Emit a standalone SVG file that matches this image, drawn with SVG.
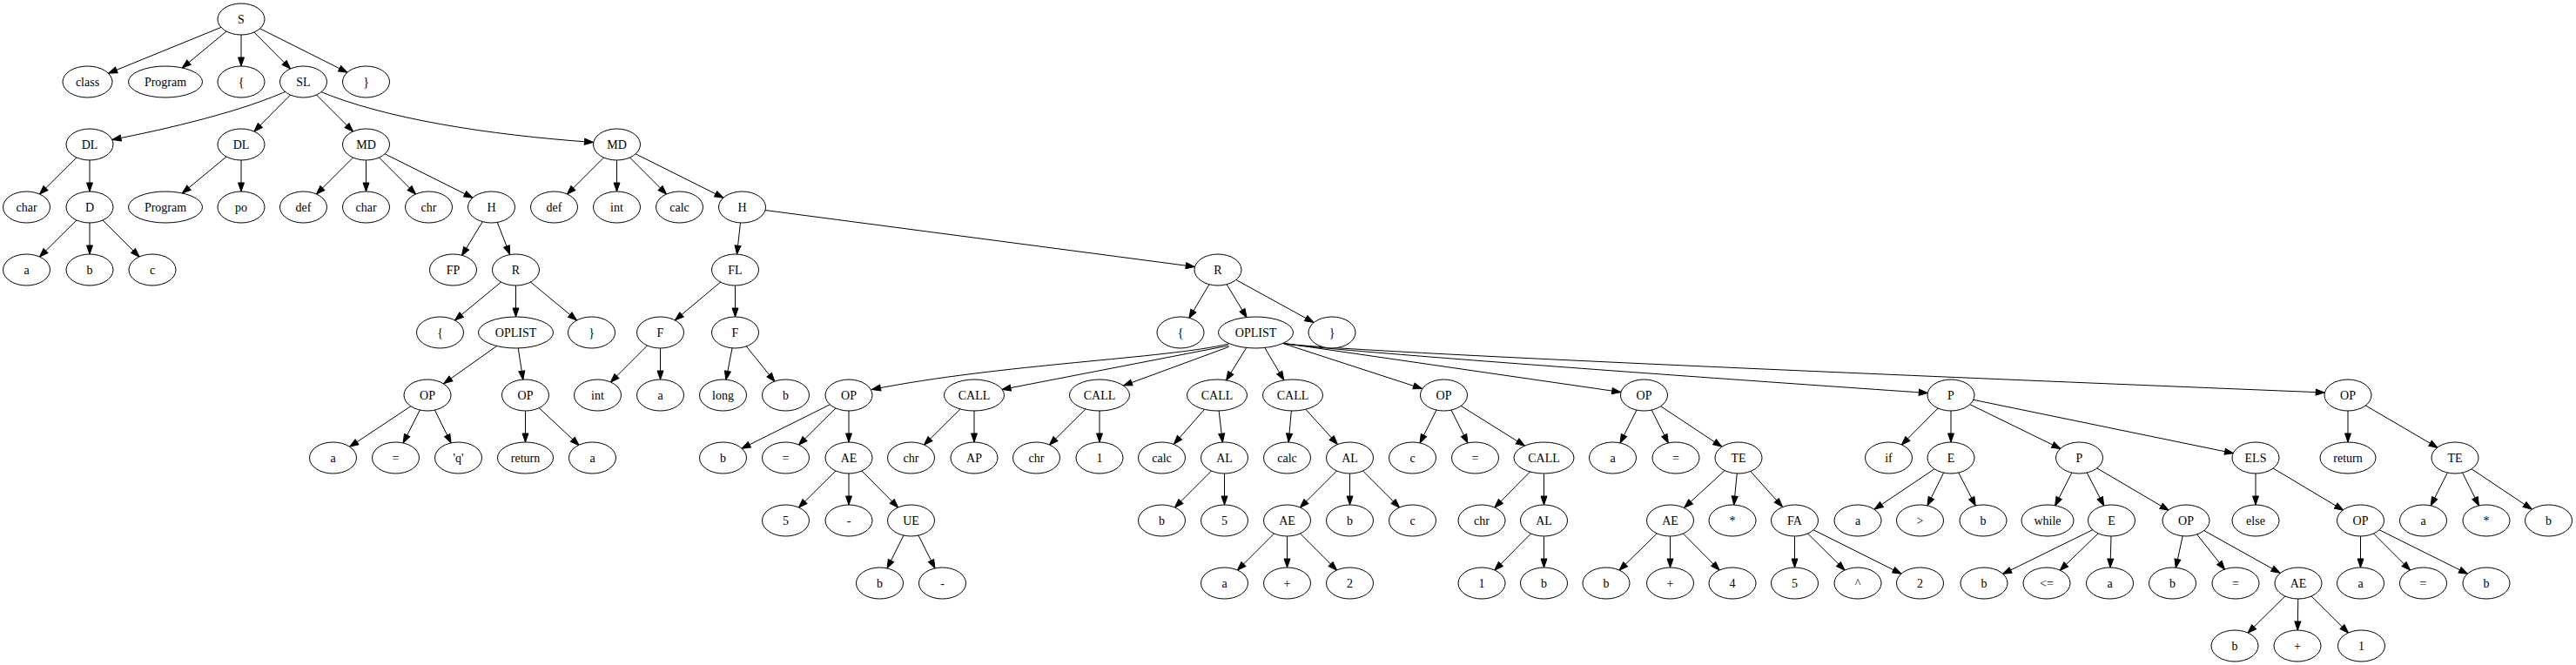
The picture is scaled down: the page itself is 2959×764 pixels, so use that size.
<svg xmlns="http://www.w3.org/2000/svg" width="2959" height="764" viewBox="0 0 2959 764">
<style>
ellipse{fill:#fff;stroke:#000;stroke-width:1}
text{font-family:"Liberation Serif","Times New Roman",serif;font-size:14px;text-anchor:middle;fill:#000}
#edges line,#edges path{stroke:#000;stroke-width:1;fill:none}
marker path{fill:#000;stroke:#000;stroke-width:1}
.m18{marker-end:url(#a18)}.m19{marker-end:url(#a19)}.m20{marker-end:url(#a20)}.m21{marker-end:url(#a21)}
.m22{marker-end:url(#a22)}.m23{marker-end:url(#a23)}.m24{marker-end:url(#a24)}.m25{marker-end:url(#a25)}
.m26{marker-end:url(#a26)}.m27{marker-end:url(#a27)}.mt{marker-end:url(#tip)}
</style>
<defs>
<marker id="tip" markerUnits="userSpaceOnUse" orient="auto" refX="10" refY="0" markerWidth="12" markerHeight="8" overflow="visible"><path d="M0,-3.5L10,0L0,3.5z"/></marker>
<marker id="a18" markerUnits="userSpaceOnUse" orient="auto" refX="28" refY="0" markerWidth="12" markerHeight="8" overflow="visible"><path d="M0,-3.5L10,0L0,3.5z"/></marker>
<marker id="a19" markerUnits="userSpaceOnUse" orient="auto" refX="29" refY="0" markerWidth="12" markerHeight="8" overflow="visible"><path d="M0,-3.5L10,0L0,3.5z"/></marker>
<marker id="a20" markerUnits="userSpaceOnUse" orient="auto" refX="30" refY="0" markerWidth="12" markerHeight="8" overflow="visible"><path d="M0,-3.5L10,0L0,3.5z"/></marker>
<marker id="a21" markerUnits="userSpaceOnUse" orient="auto" refX="31" refY="0" markerWidth="12" markerHeight="8" overflow="visible"><path d="M0,-3.5L10,0L0,3.5z"/></marker>
<marker id="a22" markerUnits="userSpaceOnUse" orient="auto" refX="32" refY="0" markerWidth="12" markerHeight="8" overflow="visible"><path d="M0,-3.5L10,0L0,3.5z"/></marker>
<marker id="a23" markerUnits="userSpaceOnUse" orient="auto" refX="33" refY="0" markerWidth="12" markerHeight="8" overflow="visible"><path d="M0,-3.5L10,0L0,3.5z"/></marker>
<marker id="a24" markerUnits="userSpaceOnUse" orient="auto" refX="34" refY="0" markerWidth="12" markerHeight="8" overflow="visible"><path d="M0,-3.5L10,0L0,3.5z"/></marker>
<marker id="a25" markerUnits="userSpaceOnUse" orient="auto" refX="35" refY="0" markerWidth="12" markerHeight="8" overflow="visible"><path d="M0,-3.5L10,0L0,3.5z"/></marker>
<marker id="a26" markerUnits="userSpaceOnUse" orient="auto" refX="36" refY="0" markerWidth="12" markerHeight="8" overflow="visible"><path d="M0,-3.5L10,0L0,3.5z"/></marker>
<marker id="a27" markerUnits="userSpaceOnUse" orient="auto" refX="37" refY="0" markerWidth="12" markerHeight="8" overflow="visible"><path d="M0,-3.5L10,0L0,3.5z"/></marker>
</defs>
<rect x="0" y="0" width="2959" height="764" fill="#fff"/>
<g id="edges">
<line class="m26" x1="277" y1="22" x2="100.5" y2="94"/>
<line class="m25" x1="277" y1="22" x2="190" y2="94"/>
<line class="m18" x1="277" y1="22" x2="277" y2="94"/>
<line class="m21" x1="277" y1="22" x2="348.5" y2="94"/>
<line class="m24" x1="277" y1="22" x2="420.5" y2="94"/>
<path class="mt" d="M335,102 C280,128 190,148.5 129,160.5"/>
<line class="m21" x1="348.5" y1="94" x2="277" y2="166"/>
<line class="m21" x1="348.5" y1="94" x2="420.5" y2="166"/>
<path class="mt" d="M365,104 C440,136 560,155 681.5,163.5"/>
<line class="m21" x1="103" y1="166" x2="30.5" y2="238"/>
<line class="m18" x1="103" y1="166" x2="103" y2="238"/>
<line class="m25" x1="277" y1="166" x2="190" y2="238"/>
<line class="m18" x1="277" y1="166" x2="277" y2="238"/>
<line class="m21" x1="420.5" y1="166" x2="348.5" y2="238"/>
<line class="m18" x1="420.5" y1="166" x2="420.5" y2="238"/>
<line class="m21" x1="420.5" y1="166" x2="492.5" y2="238"/>
<line class="m24" x1="420.5" y1="166" x2="564.5" y2="238"/>
<line class="m21" x1="708.5" y1="166" x2="636.5" y2="238"/>
<line class="m18" x1="708.5" y1="166" x2="708.5" y2="238"/>
<line class="m21" x1="708.5" y1="166" x2="780.5" y2="238"/>
<line class="m24" x1="708.5" y1="166" x2="852.5" y2="238"/>
<line class="m21" x1="103" y1="238" x2="30.5" y2="310"/>
<line class="m18" x1="103" y1="238" x2="103" y2="310"/>
<line class="m21" x1="103" y1="238" x2="175" y2="310"/>
<line class="m19" x1="564.5" y1="238" x2="520.5" y2="310"/>
<line class="m19" x1="564.5" y1="238" x2="592.5" y2="310"/>
<line class="m18" x1="852.5" y1="238" x2="844.5" y2="310"/>
<line class="m27" x1="852.5" y1="238" x2="1399" y2="310"/>
<line class="m22" x1="844.5" y1="310" x2="758.5" y2="382"/>
<line class="m18" x1="844.5" y1="310" x2="844.5" y2="382"/>
<line class="m22" x1="592.5" y1="310" x2="505.5" y2="382"/>
<line class="m18" x1="592.5" y1="310" x2="592.5" y2="382"/>
<line class="m22" x1="592.5" y1="310" x2="679.5" y2="382"/>
<line class="m19" x1="1399" y1="310" x2="1356" y2="382"/>
<line class="m20" x1="1399" y1="310" x2="1442.5" y2="382"/>
<line class="m24" x1="1399" y1="310" x2="1530" y2="382"/>
<line class="m23" x1="592.5" y1="382" x2="491" y2="454"/>
<line class="m18" x1="592.5" y1="382" x2="603.5" y2="454"/>
<line class="m21" x1="758.5" y1="382" x2="686.5" y2="454"/>
<line class="m18" x1="758.5" y1="382" x2="758.5" y2="454"/>
<line class="m18" x1="844.5" y1="382" x2="830.5" y2="454"/>
<line class="m20" x1="844.5" y1="382" x2="902.5" y2="454"/>
<path class="mt" d="M1411.5,395 C1340,412 1150,418 1001.5,447.5"/>
<path class="mt" d="M1411.5,397 L1151,447.5"/>
<path class="mt" d="M1411.5,398.5 L1290.5,443"/>
<line class="m20" x1="1442.5" y1="382" x2="1398" y2="454"/>
<line class="m20" x1="1442.5" y1="382" x2="1485" y2="454"/>
<path class="mt" d="M1472,394 L1633.5,446.5"/>
<path class="mt" d="M1472,394 L1861.7,450.5"/>
<path class="mt" d="M1472,394 C1490,400 1900,430 2214.3,451.5"/>
<path class="mt" d="M1472,394 C1500,402 2100,428 2670.2,451"/>
<line class="m23" x1="491" y1="454" x2="382.5" y2="526"/>
<line class="m19" x1="491" y1="454" x2="454.5" y2="526"/>
<line class="m19" x1="491" y1="454" x2="526.5" y2="526"/>
<line class="m18" x1="603.5" y1="454" x2="603.5" y2="526"/>
<line class="m21" x1="603.5" y1="454" x2="680.5" y2="526"/>
<line class="m24" x1="975" y1="454" x2="830.5" y2="526"/>
<line class="m21" x1="975" y1="454" x2="902.5" y2="526"/>
<line class="m18" x1="975" y1="454" x2="975" y2="526"/>
<line class="m21" x1="1119" y1="454" x2="1046.5" y2="526"/>
<line class="m18" x1="1119" y1="454" x2="1119" y2="526"/>
<line class="m21" x1="1263" y1="454" x2="1190.5" y2="526"/>
<line class="m18" x1="1263" y1="454" x2="1263" y2="526"/>
<line class="m21" x1="1398" y1="454" x2="1334.5" y2="526"/>
<line class="m18" x1="1398" y1="454" x2="1406.5" y2="526"/>
<line class="m18" x1="1485" y1="454" x2="1478.5" y2="526"/>
<line class="m21" x1="1485" y1="454" x2="1550.5" y2="526"/>
<line class="m19" x1="1658.5" y1="454" x2="1622.5" y2="526"/>
<line class="m19" x1="1658.5" y1="454" x2="1694.5" y2="526"/>
<line class="m26" x1="1658.5" y1="454" x2="1773.5" y2="526"/>
<line class="m19" x1="1888.5" y1="454" x2="1852.5" y2="526"/>
<line class="m19" x1="1888.5" y1="454" x2="1925" y2="526"/>
<line class="m23" x1="1888.5" y1="454" x2="1997" y2="526"/>
<line class="m21" x1="2241" y1="454" x2="2169.5" y2="526"/>
<line class="m18" x1="2241" y1="454" x2="2241" y2="526"/>
<line class="m24" x1="2241" y1="454" x2="2388.5" y2="526"/>
<line class="m26" x1="2241" y1="454" x2="2591" y2="526"/>
<line class="m18" x1="2697" y1="454" x2="2697" y2="526"/>
<line class="m23" x1="2697" y1="454" x2="2820" y2="526"/>
<line class="m21" x1="975" y1="526" x2="902.5" y2="598"/>
<line class="m18" x1="975" y1="526" x2="975" y2="598"/>
<line class="m21" x1="975" y1="526" x2="1046.5" y2="598"/>
<line class="m21" x1="1406.5" y1="526" x2="1334.5" y2="598"/>
<line class="m18" x1="1406.5" y1="526" x2="1406.5" y2="598"/>
<line class="m21" x1="1550.5" y1="526" x2="1478.5" y2="598"/>
<line class="m18" x1="1550.5" y1="526" x2="1550.5" y2="598"/>
<line class="m21" x1="1550.5" y1="526" x2="1622.5" y2="598"/>
<line class="m21" x1="1773.5" y1="526" x2="1702" y2="598"/>
<line class="m18" x1="1773.5" y1="526" x2="1773.5" y2="598"/>
<line class="m22" x1="1997" y1="526" x2="1918.5" y2="598"/>
<line class="m18" x1="1997" y1="526" x2="1990" y2="598"/>
<line class="m21" x1="1997" y1="526" x2="2061.5" y2="598"/>
<line class="m23" x1="2241" y1="526" x2="2134" y2="598"/>
<line class="m19" x1="2241" y1="526" x2="2205.5" y2="598"/>
<line class="m19" x1="2241" y1="526" x2="2278" y2="598"/>
<line class="m19" x1="2388.5" y1="526" x2="2352" y2="598"/>
<line class="m19" x1="2388.5" y1="526" x2="2425.5" y2="598"/>
<line class="m23" x1="2388.5" y1="526" x2="2511" y2="598"/>
<line class="m18" x1="2591" y1="526" x2="2591" y2="598"/>
<line class="m23" x1="2591" y1="526" x2="2711.5" y2="598"/>
<line class="m19" x1="2820" y1="526" x2="2783.5" y2="598"/>
<line class="m19" x1="2820" y1="526" x2="2856" y2="598"/>
<line class="m23" x1="2820" y1="526" x2="2927.5" y2="598"/>
<line class="m19" x1="1046.5" y1="598" x2="1010.5" y2="670"/>
<line class="m19" x1="1046.5" y1="598" x2="1082.5" y2="670"/>
<line class="m21" x1="1478.5" y1="598" x2="1406.5" y2="670"/>
<line class="m18" x1="1478.5" y1="598" x2="1478.5" y2="670"/>
<line class="m21" x1="1478.5" y1="598" x2="1550.5" y2="670"/>
<line class="m21" x1="1773.5" y1="598" x2="1702" y2="670"/>
<line class="m18" x1="1773.5" y1="598" x2="1773.5" y2="670"/>
<line class="m21" x1="1918.5" y1="598" x2="1845" y2="670"/>
<line class="m18" x1="1918.5" y1="598" x2="1918.5" y2="670"/>
<line class="m21" x1="1918.5" y1="598" x2="1990" y2="670"/>
<line class="m18" x1="2061.5" y1="598" x2="2061.5" y2="670"/>
<line class="m21" x1="2061.5" y1="598" x2="2134" y2="670"/>
<line class="m24" x1="2061.5" y1="598" x2="2205.5" y2="670"/>
<line class="m24" x1="2425.5" y1="598" x2="2279" y2="670"/>
<line class="m21" x1="2425.5" y1="598" x2="2351" y2="670"/>
<line class="m18" x1="2425.5" y1="598" x2="2423.5" y2="670"/>
<line class="m18" x1="2511" y1="598" x2="2495.5" y2="670"/>
<line class="m20" x1="2511" y1="598" x2="2568" y2="670"/>
<line class="m24" x1="2511" y1="598" x2="2640" y2="670"/>
<line class="m18" x1="2711.5" y1="598" x2="2711.5" y2="670"/>
<line class="m21" x1="2711.5" y1="598" x2="2783.5" y2="670"/>
<line class="m24" x1="2711.5" y1="598" x2="2856" y2="670"/>
<line class="m21" x1="2640" y1="670" x2="2567" y2="742"/>
<line class="m18" x1="2640" y1="670" x2="2639" y2="742"/>
<line class="m21" x1="2640" y1="670" x2="2712.5" y2="742"/>
</g>
<g id="n0"><ellipse cx="277" cy="22" rx="27" ry="18"/><text x="277" y="26.5">S</text></g>
<g id="n1"><ellipse cx="100.5" cy="94" rx="28.5" ry="18"/><text x="100.5" y="98.5">class</text></g>
<g id="n2"><ellipse cx="190" cy="94" rx="42.5" ry="18"/><text x="190" y="98.5">Program</text></g>
<g id="n3"><ellipse cx="277" cy="94" rx="27" ry="18"/><text x="277" y="98.5">{</text></g>
<g id="n4"><ellipse cx="348.5" cy="94" rx="27" ry="18"/><text x="348.5" y="98.5">SL</text></g>
<g id="n5"><ellipse cx="420.5" cy="94" rx="27" ry="18"/><text x="420.5" y="98.5">}</text></g>
<g id="n6"><ellipse cx="103" cy="166" rx="27" ry="18"/><text x="103" y="170.5">DL</text></g>
<g id="n7"><ellipse cx="277" cy="166" rx="27" ry="18"/><text x="277" y="170.5">DL</text></g>
<g id="n8"><ellipse cx="420.5" cy="166" rx="27" ry="18"/><text x="420.5" y="170.5">MD</text></g>
<g id="n9"><ellipse cx="708.5" cy="166" rx="27" ry="18"/><text x="708.5" y="170.5">MD</text></g>
<g id="n10"><ellipse cx="30.5" cy="238" rx="27" ry="18"/><text x="30.5" y="242.5">char</text></g>
<g id="n11"><ellipse cx="103" cy="238" rx="27" ry="18"/><text x="103" y="242.5">D</text></g>
<g id="n12"><ellipse cx="190" cy="238" rx="42.5" ry="18"/><text x="190" y="242.5">Program</text></g>
<g id="n13"><ellipse cx="277" cy="238" rx="27" ry="18"/><text x="277" y="242.5">po</text></g>
<g id="n14"><ellipse cx="348.5" cy="238" rx="27" ry="18"/><text x="348.5" y="242.5">def</text></g>
<g id="n15"><ellipse cx="420.5" cy="238" rx="27" ry="18"/><text x="420.5" y="242.5">char</text></g>
<g id="n16"><ellipse cx="492.5" cy="238" rx="27" ry="18"/><text x="492.5" y="242.5">chr</text></g>
<g id="n17"><ellipse cx="564.5" cy="238" rx="27" ry="18"/><text x="564.5" y="242.5">H</text></g>
<g id="n18"><ellipse cx="636.5" cy="238" rx="27" ry="18"/><text x="636.5" y="242.5">def</text></g>
<g id="n19"><ellipse cx="708.5" cy="238" rx="27" ry="18"/><text x="708.5" y="242.5">int</text></g>
<g id="n20"><ellipse cx="780.5" cy="238" rx="27" ry="18"/><text x="780.5" y="242.5">calc</text></g>
<g id="n21"><ellipse cx="852.5" cy="238" rx="27" ry="18"/><text x="852.5" y="242.5">H</text></g>
<g id="n22"><ellipse cx="30.5" cy="310" rx="27" ry="18"/><text x="30.5" y="314.5">a</text></g>
<g id="n23"><ellipse cx="103" cy="310" rx="27" ry="18"/><text x="103" y="314.5">b</text></g>
<g id="n24"><ellipse cx="175" cy="310" rx="27" ry="18"/><text x="175" y="314.5">c</text></g>
<g id="n25"><ellipse cx="520.5" cy="310" rx="27" ry="18"/><text x="520.5" y="314.5">FP</text></g>
<g id="n26"><ellipse cx="592.5" cy="310" rx="27" ry="18"/><text x="592.5" y="314.5">R</text></g>
<g id="n27"><ellipse cx="844.5" cy="310" rx="27" ry="18"/><text x="844.5" y="314.5">FL</text></g>
<g id="n28"><ellipse cx="1399" cy="310" rx="27" ry="18"/><text x="1399" y="314.5">R</text></g>
<g id="n29"><ellipse cx="505.5" cy="382" rx="27" ry="18"/><text x="505.5" y="386.5">{</text></g>
<g id="n30"><ellipse cx="592.5" cy="382" rx="43" ry="18"/><text x="592.5" y="386.5">OPLIST</text></g>
<g id="n31"><ellipse cx="679.5" cy="382" rx="27" ry="18"/><text x="679.5" y="386.5">}</text></g>
<g id="n32"><ellipse cx="758.5" cy="382" rx="27" ry="18"/><text x="758.5" y="386.5">F</text></g>
<g id="n33"><ellipse cx="844.5" cy="382" rx="27" ry="18"/><text x="844.5" y="386.5">F</text></g>
<g id="n34"><ellipse cx="1356" cy="382" rx="27" ry="18"/><text x="1356" y="386.5">{</text></g>
<g id="n35"><ellipse cx="1442.5" cy="382" rx="43" ry="18"/><text x="1442.5" y="386.5">OPLIST</text></g>
<g id="n36"><ellipse cx="1530" cy="382" rx="27" ry="18"/><text x="1530" y="386.5">}</text></g>
<g id="n37"><ellipse cx="491" cy="454" rx="27" ry="18"/><text x="491" y="458.5">OP</text></g>
<g id="n38"><ellipse cx="603.5" cy="454" rx="27" ry="18"/><text x="603.5" y="458.5">OP</text></g>
<g id="n39"><ellipse cx="686.5" cy="454" rx="27" ry="18"/><text x="686.5" y="458.5">int</text></g>
<g id="n40"><ellipse cx="758.5" cy="454" rx="27" ry="18"/><text x="758.5" y="458.5">a</text></g>
<g id="n41"><ellipse cx="830.5" cy="454" rx="27" ry="18"/><text x="830.5" y="458.5">long</text></g>
<g id="n42"><ellipse cx="902.5" cy="454" rx="27" ry="18"/><text x="902.5" y="458.5">b</text></g>
<g id="n43"><ellipse cx="975" cy="454" rx="27" ry="18"/><text x="975" y="458.5">OP</text></g>
<g id="n44"><ellipse cx="1119" cy="454" rx="34.5" ry="18"/><text x="1119" y="458.5">CALL</text></g>
<g id="n45"><ellipse cx="1263" cy="454" rx="34.5" ry="18"/><text x="1263" y="458.5">CALL</text></g>
<g id="n46"><ellipse cx="1398" cy="454" rx="34.5" ry="18"/><text x="1398" y="458.5">CALL</text></g>
<g id="n47"><ellipse cx="1485" cy="454" rx="34.5" ry="18"/><text x="1485" y="458.5">CALL</text></g>
<g id="n48"><ellipse cx="1658.5" cy="454" rx="27" ry="18"/><text x="1658.5" y="458.5">OP</text></g>
<g id="n49"><ellipse cx="1888.5" cy="454" rx="27" ry="18"/><text x="1888.5" y="458.5">OP</text></g>
<g id="n50"><ellipse cx="2241" cy="454" rx="27" ry="18"/><text x="2241" y="458.5">P</text></g>
<g id="n51"><ellipse cx="2697" cy="454" rx="27" ry="18"/><text x="2697" y="458.5">OP</text></g>
<g id="n52"><ellipse cx="382.5" cy="526" rx="27" ry="18"/><text x="382.5" y="530.5">a</text></g>
<g id="n53"><ellipse cx="454.5" cy="526" rx="27" ry="18"/><text x="454.5" y="530.5">=</text></g>
<g id="n54"><ellipse cx="526.5" cy="526" rx="27" ry="18"/><text x="526.5" y="530.5">'q'</text></g>
<g id="n55"><ellipse cx="603.5" cy="526" rx="32" ry="18"/><text x="603.5" y="530.5">return</text></g>
<g id="n56"><ellipse cx="680.5" cy="526" rx="27" ry="18"/><text x="680.5" y="530.5">a</text></g>
<g id="n57"><ellipse cx="830.5" cy="526" rx="27" ry="18"/><text x="830.5" y="530.5">b</text></g>
<g id="n58"><ellipse cx="902.5" cy="526" rx="27" ry="18"/><text x="902.5" y="530.5">=</text></g>
<g id="n59"><ellipse cx="975" cy="526" rx="27" ry="18"/><text x="975" y="530.5">AE</text></g>
<g id="n60"><ellipse cx="1046.5" cy="526" rx="27" ry="18"/><text x="1046.5" y="530.5">chr</text></g>
<g id="n61"><ellipse cx="1119" cy="526" rx="27" ry="18"/><text x="1119" y="530.5">AP</text></g>
<g id="n62"><ellipse cx="1190.5" cy="526" rx="27" ry="18"/><text x="1190.5" y="530.5">chr</text></g>
<g id="n63"><ellipse cx="1263" cy="526" rx="27" ry="18"/><text x="1263" y="530.5">1</text></g>
<g id="n64"><ellipse cx="1334.5" cy="526" rx="27" ry="18"/><text x="1334.5" y="530.5">calc</text></g>
<g id="n65"><ellipse cx="1406.5" cy="526" rx="27" ry="18"/><text x="1406.5" y="530.5">AL</text></g>
<g id="n66"><ellipse cx="1478.5" cy="526" rx="27" ry="18"/><text x="1478.5" y="530.5">calc</text></g>
<g id="n67"><ellipse cx="1550.5" cy="526" rx="27" ry="18"/><text x="1550.5" y="530.5">AL</text></g>
<g id="n68"><ellipse cx="1622.5" cy="526" rx="27" ry="18"/><text x="1622.5" y="530.5">c</text></g>
<g id="n69"><ellipse cx="1694.5" cy="526" rx="27" ry="18"/><text x="1694.5" y="530.5">=</text></g>
<g id="n70"><ellipse cx="1773.5" cy="526" rx="34.5" ry="18"/><text x="1773.5" y="530.5">CALL</text></g>
<g id="n71"><ellipse cx="1852.5" cy="526" rx="27" ry="18"/><text x="1852.5" y="530.5">a</text></g>
<g id="n72"><ellipse cx="1925" cy="526" rx="27" ry="18"/><text x="1925" y="530.5">=</text></g>
<g id="n73"><ellipse cx="1997" cy="526" rx="27" ry="18"/><text x="1997" y="530.5">TE</text></g>
<g id="n74"><ellipse cx="2169.5" cy="526" rx="27" ry="18"/><text x="2169.5" y="530.5">if</text></g>
<g id="n75"><ellipse cx="2241" cy="526" rx="27" ry="18"/><text x="2241" y="530.5">E</text></g>
<g id="n76"><ellipse cx="2388.5" cy="526" rx="27" ry="18"/><text x="2388.5" y="530.5">P</text></g>
<g id="n77"><ellipse cx="2591" cy="526" rx="27" ry="18"/><text x="2591" y="530.5">ELS</text></g>
<g id="n78"><ellipse cx="2697" cy="526" rx="32" ry="18"/><text x="2697" y="530.5">return</text></g>
<g id="n79"><ellipse cx="2820" cy="526" rx="27" ry="18"/><text x="2820" y="530.5">TE</text></g>
<g id="n80"><ellipse cx="902.5" cy="598" rx="27" ry="18"/><text x="902.5" y="602.5">5</text></g>
<g id="n81"><ellipse cx="975" cy="598" rx="27" ry="18"/><text x="975" y="602.5">-</text></g>
<g id="n82"><ellipse cx="1046.5" cy="598" rx="27" ry="18"/><text x="1046.5" y="602.5">UE</text></g>
<g id="n83"><ellipse cx="1334.5" cy="598" rx="27" ry="18"/><text x="1334.5" y="602.5">b</text></g>
<g id="n84"><ellipse cx="1406.5" cy="598" rx="27" ry="18"/><text x="1406.5" y="602.5">5</text></g>
<g id="n85"><ellipse cx="1478.5" cy="598" rx="27" ry="18"/><text x="1478.5" y="602.5">AE</text></g>
<g id="n86"><ellipse cx="1550.5" cy="598" rx="27" ry="18"/><text x="1550.5" y="602.5">b</text></g>
<g id="n87"><ellipse cx="1622.5" cy="598" rx="27" ry="18"/><text x="1622.5" y="602.5">c</text></g>
<g id="n88"><ellipse cx="1702" cy="598" rx="27" ry="18"/><text x="1702" y="602.5">chr</text></g>
<g id="n89"><ellipse cx="1773.5" cy="598" rx="27" ry="18"/><text x="1773.5" y="602.5">AL</text></g>
<g id="n90"><ellipse cx="1918.5" cy="598" rx="27" ry="18"/><text x="1918.5" y="602.5">AE</text></g>
<g id="n91"><ellipse cx="1990" cy="598" rx="27" ry="18"/><text x="1990" y="602.5">*</text></g>
<g id="n92"><ellipse cx="2061.5" cy="598" rx="27" ry="18"/><text x="2061.5" y="602.5">FA</text></g>
<g id="n93"><ellipse cx="2134" cy="598" rx="27" ry="18"/><text x="2134" y="602.5">a</text></g>
<g id="n94"><ellipse cx="2205.5" cy="598" rx="27" ry="18"/><text x="2205.5" y="602.5">&gt;</text></g>
<g id="n95"><ellipse cx="2278" cy="598" rx="27" ry="18"/><text x="2278" y="602.5">b</text></g>
<g id="n96"><ellipse cx="2352" cy="598" rx="30" ry="18"/><text x="2352" y="602.5">while</text></g>
<g id="n97"><ellipse cx="2425.5" cy="598" rx="27" ry="18"/><text x="2425.5" y="602.5">E</text></g>
<g id="n98"><ellipse cx="2511" cy="598" rx="27" ry="18"/><text x="2511" y="602.5">OP</text></g>
<g id="n99"><ellipse cx="2591" cy="598" rx="27" ry="18"/><text x="2591" y="602.5">else</text></g>
<g id="n100"><ellipse cx="2711.5" cy="598" rx="27" ry="18"/><text x="2711.5" y="602.5">OP</text></g>
<g id="n101"><ellipse cx="2783.5" cy="598" rx="27" ry="18"/><text x="2783.5" y="602.5">a</text></g>
<g id="n102"><ellipse cx="2856" cy="598" rx="27" ry="18"/><text x="2856" y="602.5">*</text></g>
<g id="n103"><ellipse cx="2927.5" cy="598" rx="27" ry="18"/><text x="2927.5" y="602.5">b</text></g>
<g id="n104"><ellipse cx="1010.5" cy="670" rx="27" ry="18"/><text x="1010.5" y="674.5">b</text></g>
<g id="n105"><ellipse cx="1082.5" cy="670" rx="27" ry="18"/><text x="1082.5" y="674.5">-</text></g>
<g id="n106"><ellipse cx="1406.5" cy="670" rx="27" ry="18"/><text x="1406.5" y="674.5">a</text></g>
<g id="n107"><ellipse cx="1478.5" cy="670" rx="27" ry="18"/><text x="1478.5" y="674.5">+</text></g>
<g id="n108"><ellipse cx="1550.5" cy="670" rx="27" ry="18"/><text x="1550.5" y="674.5">2</text></g>
<g id="n109"><ellipse cx="1702" cy="670" rx="27" ry="18"/><text x="1702" y="674.5">1</text></g>
<g id="n110"><ellipse cx="1773.5" cy="670" rx="27" ry="18"/><text x="1773.5" y="674.5">b</text></g>
<g id="n111"><ellipse cx="1845" cy="670" rx="27" ry="18"/><text x="1845" y="674.5">b</text></g>
<g id="n112"><ellipse cx="1918.5" cy="670" rx="27" ry="18"/><text x="1918.5" y="674.5">+</text></g>
<g id="n113"><ellipse cx="1990" cy="670" rx="27" ry="18"/><text x="1990" y="674.5">4</text></g>
<g id="n114"><ellipse cx="2061.5" cy="670" rx="27" ry="18"/><text x="2061.5" y="674.5">5</text></g>
<g id="n115"><ellipse cx="2134" cy="670" rx="27" ry="18"/><text x="2134" y="674.5">^</text></g>
<g id="n116"><ellipse cx="2205.5" cy="670" rx="27" ry="18"/><text x="2205.5" y="674.5">2</text></g>
<g id="n117"><ellipse cx="2279" cy="670" rx="27" ry="18"/><text x="2279" y="674.5">b</text></g>
<g id="n118"><ellipse cx="2351" cy="670" rx="27" ry="18"/><text x="2351" y="674.5">&lt;=</text></g>
<g id="n119"><ellipse cx="2423.5" cy="670" rx="27" ry="18"/><text x="2423.5" y="674.5">a</text></g>
<g id="n120"><ellipse cx="2495.5" cy="670" rx="27" ry="18"/><text x="2495.5" y="674.5">b</text></g>
<g id="n121"><ellipse cx="2568" cy="670" rx="27" ry="18"/><text x="2568" y="674.5">=</text></g>
<g id="n122"><ellipse cx="2640" cy="670" rx="27" ry="18"/><text x="2640" y="674.5">AE</text></g>
<g id="n123"><ellipse cx="2711.5" cy="670" rx="27" ry="18"/><text x="2711.5" y="674.5">a</text></g>
<g id="n124"><ellipse cx="2783.5" cy="670" rx="27" ry="18"/><text x="2783.5" y="674.5">=</text></g>
<g id="n125"><ellipse cx="2856" cy="670" rx="27" ry="18"/><text x="2856" y="674.5">b</text></g>
<g id="n126"><ellipse cx="2567" cy="742" rx="27" ry="18"/><text x="2567" y="746.5">b</text></g>
<g id="n127"><ellipse cx="2639" cy="742" rx="27" ry="18"/><text x="2639" y="746.5">+</text></g>
<g id="n128"><ellipse cx="2712.5" cy="742" rx="27" ry="18"/><text x="2712.5" y="746.5">1</text></g>
</svg>
